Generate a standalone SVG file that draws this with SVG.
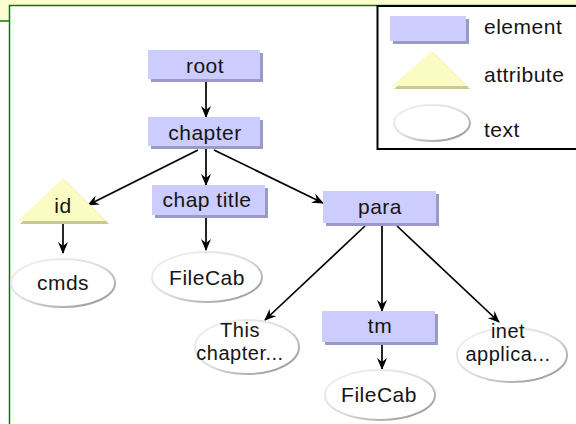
<svg xmlns="http://www.w3.org/2000/svg" width="576" height="424" viewBox="0 0 576 424">
<defs>
<linearGradient id="eg" x1="0" y1="0" x2="1" y2="1">
<stop offset="0" stop-color="#f4f4f4"/>
<stop offset="0.5" stop-color="#dddddd"/>
<stop offset="1" stop-color="#8a8a8a"/>
</linearGradient>
<marker id="ah" markerWidth="12" markerHeight="10" refX="11" refY="5" orient="auto" markerUnits="userSpaceOnUse">
<path d="M0,0 L12,5 L0,10 L4,5 Z" fill="#000"/>
</marker>
</defs>
<style>
text{font-family:"Liberation Sans",Arial,sans-serif;font-size:21px;fill:#151515;text-anchor:middle;letter-spacing:0.5px}
.sm{font-size:20px}
.lg{text-anchor:start}
.el{fill:#ccccff}
.es{fill:#9a9ac6}
.tri{fill:#fbfbc4}
.tris{fill:#c9c996}
.ell{fill:#fff;stroke:url(#eg);stroke-width:2}
.c{stroke:#000;stroke-width:1.7;fill:none;marker-end:url(#ah)}
</style>
<rect x="0" y="0" width="576" height="424" fill="#fff"/>
<g id="frame">
<rect x="0" y="0" width="576" height="5.5" fill="#fdfdd2"/>
<rect x="0" y="0" width="9.5" height="21" fill="#fdfdd2"/>
<path d="M9.5,424 V5.5 H576" stroke="#008000" stroke-width="1.5" fill="none"/>
<path d="M0,21 H9.5" stroke="#008000" stroke-width="1.5" fill="none"/>
</g>
<g id="legend">
<rect x="377.5" y="6" width="210" height="143" fill="#fff" stroke="#000" stroke-width="2"/>
<rect x="393" y="19" width="76" height="25" class="es"/>
<rect x="390" y="16" width="76" height="25" class="el"/>
<polygon points="434,53 470,89 394,89" class="tris"/>
<polygon points="432,51 467,86 392,86" class="tri"/>
<ellipse cx="432" cy="123" rx="38" ry="18" class="ell"/>
<text x="484" y="34" class="lg">element</text>
<text x="484" y="82" class="lg">attribute</text>
<text x="484" y="137" class="lg">text</text>
</g>
<g id="connectors">
<line x1="206" y1="80" x2="206" y2="117" class="c"/>
<line x1="198" y1="150" x2="88" y2="205" class="c"/>
<line x1="206" y1="148" x2="206" y2="185" class="c"/>
<line x1="214" y1="150" x2="323" y2="203" class="c"/>
<line x1="63" y1="223" x2="63" y2="253" class="c"/>
<line x1="206" y1="218" x2="206" y2="250" class="c"/>
<line x1="365" y1="226" x2="265" y2="320" class="c"/>
<line x1="382" y1="226" x2="382" y2="311" class="c"/>
<line x1="397" y1="226" x2="499" y2="322" class="c"/>
<line x1="382" y1="344" x2="382" y2="369" class="c"/>
</g>
<g id="root">
<rect x="151" y="53" width="112" height="29" class="es"/>
<rect x="148" y="50" width="112" height="29" class="el"/>
<text x="205" y="73">root</text>
</g>
<g id="chapter">
<rect x="151" y="120" width="112" height="29" class="es"/>
<rect x="148" y="117" width="112" height="29" class="el"/>
<text x="205" y="140">chapter</text>
</g>
<g id="id">
<polygon points="65,180 109,224 20,224" class="tris"/>
<polygon points="63,178 106,221 18,221" class="tri"/>
<text x="63" y="213">id</text>
</g>
<g id="chaptitle">
<rect x="155" y="188" width="113" height="30" class="es"/>
<rect x="152" y="185" width="113" height="30" class="el"/>
<text x="207" y="207">chap title</text>
</g>
<g id="para">
<rect x="326" y="194" width="113" height="32" class="es"/>
<rect x="323" y="191" width="113" height="32" class="el"/>
<text x="380" y="214">para</text>
</g>
<g id="cmds">
<ellipse cx="63" cy="283" rx="52" ry="24" class="ell"/>
<text x="63" y="290">cmds</text>
</g>
<g id="filecab1">
<ellipse cx="207" cy="277" rx="55" ry="25" class="ell"/>
<text x="207" y="285">FileCab</text>
</g>
<g id="thischapter">
<ellipse cx="247" cy="347" rx="52" ry="27" class="ell"/>
<text x="240" y="337" class="sm">This</text>
<text x="240" y="360" class="sm">chapter...</text>
</g>
<g id="tm">
<rect x="325" y="314" width="113" height="31" class="es"/>
<rect x="322" y="311" width="113" height="31" class="el"/>
<text x="380" y="333">tm</text>
</g>
<g id="inet">
<ellipse cx="512" cy="355" rx="55" ry="27" class="ell"/>
<text x="508" y="338" class="sm">inet</text>
<text x="508" y="361" class="sm">applica...</text>
</g>
<g id="filecab2">
<ellipse cx="380" cy="395" rx="55" ry="25" class="ell"/>
<text x="379" y="402">FileCab</text>
</g>
</svg>
